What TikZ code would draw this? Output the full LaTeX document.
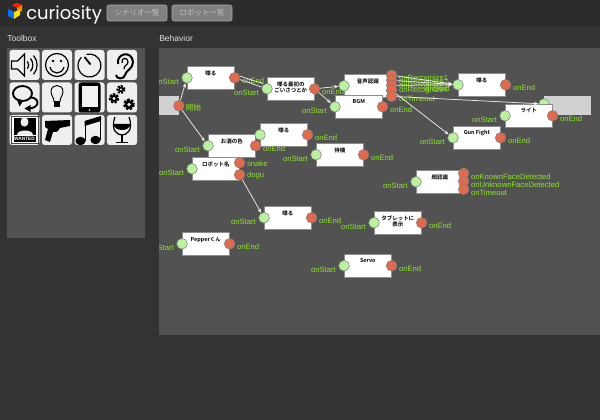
\documentclass[tikz,border=0pt]{standalone}
\usepackage{fontspec}
\setmainfont{Liberation Sans}
\newfontfamily\cjk{Noto Sans CJK JP}[BoldFont={Noto Sans CJK JP Bold}]
\newfontfamily\logofont{Poppins}
\usetikzlibrary{arrows.meta}
\definecolor{pagebg}{HTML}{333333}
\definecolor{headbg}{HTML}{2C2C2C}
\definecolor{panelbg}{HTML}{525252}
\definecolor{lab}{HTML}{8CE42A}
\definecolor{grn}{HTML}{B9F29C}
\definecolor{rdd}{HTML}{E2694C}
\definecolor{tile}{HTML}{EFEFEF}
\tikzset{
  blockbox/.style={draw=black!45,fill=white,minimum width=35.2pt,minimum height=17.2pt,inner sep=0pt,line width=.5pt},
  gportn/.style={circle,draw=black!50,fill=grn,minimum size=8pt,inner sep=0pt,line width=.4pt},
  rportn/.style={circle,draw=black!50,fill=rdd,minimum size=8pt,inner sep=0pt,line width=.4pt},
  lbl/.style={text=lab,font=\fontsize{5.75}{6.5}\selectfont,inner sep=0pt},
  ttl/.style={font=\cjk\bfseries\fontsize{4.1}{4.7}\selectfont,align=center,inner sep=0pt,text=black},
  wire/.style={draw=white!92!black,line width=.55pt,-{Stealth[length=3.2pt,width=2.6pt]}},
  wirep/.style={draw=white!92!black,line width=.55pt},
  tilebox/.style={fill=tile,draw=none,rounded corners=2pt},
  ink/.style={draw=black,line width=.9pt,fill=none},
  btn/.style={fill=black!50,draw=black!35,rounded corners=1.5pt,text=black!25,font=\cjk\fontsize{5.6}{6}\selectfont,inner sep=0pt,line width=.4pt},
  headlab/.style={text=black!12,font=\fontsize{6.4}{7}\selectfont,inner sep=0pt,anchor=west}
}
\newcommand{\blk}[4]{%
  \node[blockbox,anchor=north west] (#1) at (#2,#3) {};
  \node[ttl,anchor=north] (#1t) at ([yshift=-3.2pt]#1.north) {#4};
}
\newcommand{\gp}[3]{%
  \node[gportn] (#1-s) at (#2.west) {};
  \node[lbl,anchor=east] (#1-sl) at ([xshift=-6pt,yshift=-3pt]#2.west) {#3};
}
\newcommand{\rp}[5]{%
  \node[rportn] (#1) at ([yshift=#3*0.75pt]#2.east) {};
  \node[lbl,anchor=west] (#1l) at ([xshift=5.4pt,yshift=#5*0.75pt]#2.east) {#4};
}
\newcommand{\tileat}[3]{\fill[tilebox] (#1,#2) rectangle ++(30,30); \begin{scope}[shift={(#1,#2)}] #3 \end{scope}}
\begin{document}
\begin{tikzpicture}[x=0.75pt,y=-0.75pt]
\useasboundingbox (0,0) rectangle (600,420);
\fill[pagebg] (0,0) rectangle (600,420);
\fill[headbg] (0,0) rectangle (600,25);
\draw[black!85,line width=.6pt] (0,25.3) -- (600,25.3);
% logo
\fill[red!75!orange] (12,5) -- (17,3) -- (22,5) -- (17,8) -- cycle;
\fill[orange!90!yellow] (17,8) -- (22,5) -- (22,11) -- (17,13) -- cycle;
\fill[blue!55!cyan] (8,9) -- (14,12) -- (14,19) -- (8,16) -- cycle;
\fill[yellow!85!orange] (14,12) -- (20,10) -- (20,15) -- (14,19) -- cycle;
\node[anchor=west,text=white,inner sep=0pt,font=\logofont\fontsize{13.5}{15}\selectfont] (logo) at (26,14.5) {curiosity};
\node[btn,minimum width=45pt,minimum height=12pt] (b1) at (137,13) {シナリオ一覧};
\node[btn,minimum width=45pt,minimum height=12pt] (b2) at (202,13) {ロボット一覧};
\node[headlab] (tb) at (7,38.5) {Toolbox};
\node[headlab] (bh) at (159,38.5) {Behavior};
% panels
\fill[panelbg] (7,48) rectangle (145,238);
\fill[panelbg] (159,48) rectangle (600,335);
% icons row 1
\tileat{9.5}{50}{
 \draw[ink] (2,11)--(8,11)--(15,4)--(15,26)--(8,19)--(2,19)--cycle;
 \draw[ink] (18,11.3) arc (-35:35:6.5);
 \draw[ink] (21,8.5) arc (-40:40:10);
 \draw[ink] (24,5.6) arc (-42:42:14);
}
\tileat{42}{50}{
 \draw[ink] (15,15) circle (11.5);
 \fill (11,11) circle (1.3); \fill (19,11) circle (1.3);
 \draw[ink] (8,17) .. controls (10,25) and (20,25) .. (22,17);
}
\tileat{74.5}{50}{
 \draw[ink] (12,4.4) arc (-105:225:11.5);
 \draw[line width=1.4pt] (10,7)--(16,14.5);
}
\tileat{107}{50}{
 \draw[line width=1.5pt] (11,14) .. controls (9,3) and (25,0) .. (26,12) .. controls (26,19) and (19,20) .. (18,25) .. controls (17,30) and (9,29) .. (9,25);
 \draw[ink] (15,13) .. controls (14,7) and (21,7) .. (21,12) .. controls (21,15) and (17,15) .. (17,19);
}
% row 2
\tileat{9.5}{82.5}{
 \draw[line width=1.4pt] (13,11) ellipse (9.5 and 7.5);
 \fill (7,16) -- (10,24) -- (14,18) -- cycle;
 \draw[line width=1.4pt] (21,15) .. controls (30,15) and (31,25) .. (20,26);
 \fill (15,26) -- (21,29.5) -- (21,22.5) -- cycle;
}
\tileat{42}{82.5}{
 \draw[ink,line width=.7pt] (12,19) .. controls (12,15) and (9,13) .. (9,9) .. controls (9,1) and (21,1) .. (21,9) .. controls (21,13) and (18,15) .. (18,19) -- cycle;
 \fill (12,20) rectangle (18,25);
}
\tileat{74.5}{82.5}{
 \fill[rounded corners=2pt] (4,0) rectangle (26,30);
 \fill[white!95!black] (7,3.5) rectangle (23,25);
 \fill[white] (15,27.5) circle (.9);
}
\tileat{107}{82.5}{
 \draw[line width=2pt,dash pattern=on 1.3pt off .9pt] (14,7) circle (3.2);
 \fill (14,7) circle (2.6); \fill[tile] (14,7) circle (1.2);
 \draw[line width=2pt,dash pattern=on 1.6pt off 1pt] (7,16) circle (4);
 \fill (7,16) circle (3.8); \fill[tile] (7,16) circle (1.6);
 \draw[line width=2.2pt,dash pattern=on 1.8pt off 1pt] (22,22) circle (4.5);
 \fill (22,22) circle (4.4); \fill[tile] (22,22) circle (1.8);
}
% row 3
\tileat{9.5}{115}{
 \draw[black!70,line width=.5pt,fill=white] (1.5,1.5) rectangle (28.5,28.5);
 \fill (4,3) rectangle (26,20);
 \fill[tile] (15,7) ellipse (4 and 4.6);
 \fill[tile] (7,20) .. controls (7,14) and (23,14) .. (23,20) -- cycle;
 \fill (4,21) rectangle (26,27.5);
 \node[inner sep=0pt,text=white,font=\bfseries\fontsize{3.6}{4}\selectfont] (wanted) at (15,24.3) {WANTED};
}
\tileat{42}{115}{
 \fill (3,6) -- (28,5) -- (28,11) -- (18,13) .. controls (16,17) and (13,18) .. (11,17) -- (8,27) -- (3,25) -- (6,14) -- (3,12) -- cycle;
}
\tileat{74.5}{115}{
 \fill (6,26) ellipse (5 and 4.2);
 \fill (21,25) ellipse (5 and 4.2);
 \fill (10,26) rectangle (11.5,6);
 \fill (25,25) rectangle (26.5,1);
 \fill (10,6) -- (26.5,1) -- (26.5,6) -- (10,11) -- cycle;
}
\tileat{107}{115}{
 \draw[ink] (8,2) .. controls (3,16) and (11,20) .. (15,20) .. controls (19,20) and (27,16) .. (22,2);
 \fill (6.5,9) .. controls (7,17) and (23,17) .. (23.5,9) -- cycle;
 \draw[ink] (15,20)--(15,27.5);
 \draw[ink] (9,27.5)--(21,27.5);
}
% behavior
\begin{scope}
\clip (159,48) rectangle (600,335);
\node[fill=black!18,minimum width=14.5pt,minimum height=14.2pt,inner sep=0pt,anchor=north west] (st) at (159,96) {};
\node[rportn] (st-e) at (st.east) {};
\node[lbl,anchor=west] (stl) at (185.5,108) {\cjk 開始};
\node[fill=black!18,minimum width=35.2pt,minimum height=14.2pt,inner sep=0pt,anchor=north west] (en) at (544,96) {};
\node[gportn] (en-s) at (544,104) {};
\blk{A}{187}{66}{喋る}
\blk{B}{267}{77}{喋る最初の\\ごいさつとか}
\blk{C}{344}{74}{音声認識}
\blk{D}{335}{95}{BGM}
\blk{E}{458}{73}{喋る}
\blk{F}{505}{104}{ライト}
\blk{G}{453}{126}{Gun Fight}
\blk{I}{260}{123}{喋る}
\blk{H}{208}{134}{お酒の色}
\blk{J}{192}{157}{ロボット名}
\blk{K}{264}{206}{喋る}
\blk{L}{316}{143}{待機}
\blk{M}{416}{170}{顔認識}
\blk{N}{374}{211}{タブレットに\\表示}
\blk{O}{344}{254}{Servo}
\blk{P}{182}{232}{Pepperくん}
\gp{A}{A}{onStart}\rp{A-e}{A}{0}{onEnd}{-3}
\gp{B}{B}{onStart}\rp{B-e}{B}{0}{onEnd}{-3}
\gp{D}{D}{onStart}\rp{D-e}{D}{0}{onEnd}{-3}
\node[gportn] (C-s) at (C.west) {};
\gp{E}{E}{onStart}\rp{E-e}{E}{0}{onEnd}{-3}
\gp{F}{F}{onStart}\rp{F-e}{F}{0}{onEnd}{-3}
\gp{G}{G}{onStart}\rp{G-e}{G}{0}{onEnd}{-3}
\node[gportn] (I-s) at (I.west) {};
\rp{I-e}{I}{0}{onEnd}{-3}
\gp{H}{H}{onStart}\rp{H-e}{H}{0}{onEnd}{-3}
\gp{J}{J}{onStart}
\rp{J-a}{J}{6}{snake}{5.5}\rp{J-b}{J}{-6}{dogu}{-6.5}
\gp{K}{K}{onStart}\rp{K-e}{K}{0}{onEnd}{-3}
\gp{L}{L}{onStart}\rp{L-e}{L}{0}{onEnd}{-3}
\gp{M}{M}{onStart}
\rp{M-a}{M}{8.5}{onKnownFaceDetected}{5}
\rp{M-b}{M}{0.5}{onUnknownFaceDetected}{-3}
\rp{M-c}{M}{-7.5}{onTimeout}{-11}
\gp{N}{N}{onStart}\rp{N-e}{N}{0}{onEnd}{-3}
\gp{O}{O}{onStart}\rp{O-e}{O}{0}{onEnd}{-3}
\gp{P}{P}{onStart}\rp{P-e}{P}{0}{onEnd}{-3}
\rp{C-a}{C}{10.5}{onRecognize1}{7}
\rp{C-b}{C}{5.5}{onRecognize2}{3}
\rp{C-c}{C}{0.5}{onRecognize3}{-1}
\rp{C-d}{C}{-4.5}{onRecognize4}{-5}
\rp{C-f}{C}{-10.5}{onTimeout}{-13}
\draw[wire] (st-e) -- (A-s);
\draw[wire] (st-e) -- (H-s);
\draw[wirep] (A-e) -- (B-s);
\draw[wirep] ([yshift=1.2pt]A-e.east) -- ([yshift=.9pt]B-s.north west);
\draw[wire] (B-e) -- (C-s);
\draw[wire] (B-e) -- (D-s);
\draw[wire] (C-a) -- (E-s);
\draw[wire] (C-b) -- (E-s);
\draw[wire] (C-c) -- (E-s);
\draw[wire] (C-d) -- (G-s);
\draw[wire] (C-f) -- (en-s);
\draw[wire] (J-b) -- (K-s);
\end{scope}
\end{tikzpicture}
\end{document}
